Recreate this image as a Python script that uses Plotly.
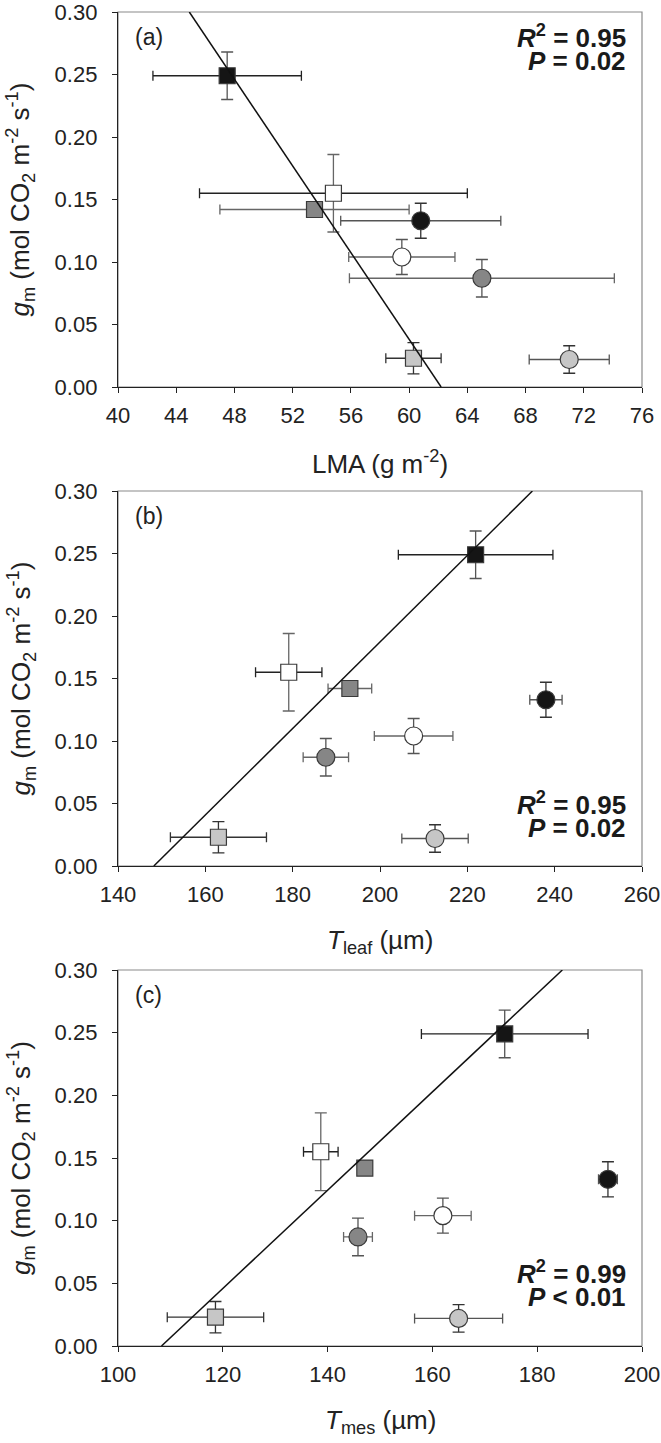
import plotly.graph_objects as go

# ---------------- data ----------------
gm = [0.249, 0.155, 0.142, 0.133, 0.104, 0.087, 0.023, 0.022]
gm_err = [0.019, 0.031, 0.004, 0.014, 0.014, 0.015, 0.0125, 0.011]

lma = [47.5, 54.8, 53.5, 60.8, 59.5, 65.0, 60.3, 71.0]
lma_err = [5.1, 9.2, 6.5, 5.5, 3.65, 9.1, 1.9, 2.75]

tleaf = [221.9, 179.1, 193.1, 238.0, 207.7, 187.6, 163.0, 212.6]
tleaf_err = [17.7, 7.6, 5.0, 3.7, 9.0, 5.2, 11.0, 7.6]

tmes = [173.8, 138.7, 147.1, 193.5, 162.0, 145.8, 118.6, 165.0]
tmes_err = [15.9, 3.3, 1.0, 1.8, 5.4, 2.75, 9.2, 8.4]

fit_y = [0.30, 0.0]
fit_lma_x = [44.9, 62.2]
fit_tleaf_x = [234.9, 148.2]
fit_tmes_x = [184.8, 108.3]

stats = [("0.95", "= 0.02"), ("0.95", "= 0.02"), ("0.99", "< 0.01")]
panel_labels = ["(a)", "(b)", "(c)"]

# ---------------- styles ----------------
symbols = ["square", "square", "square", "circle", "circle", "circle", "square", "circle"]
fills = ["#151515", "#ffffff", "#868686", "#151515", "#ffffff", "#868686", "#c6c6c6", "#c6c6c6"]
xerr_cols = ["#222222", "#222222", "#666666", "#555555", "#666666", "#666666", "#333333", "#555555"]
yerr_cols = ["#555555", "#666666", "#666666", "#333333", "#555555", "#555555", "#333333", "#333333"]

W, H = 661, 1443
L, R, T, B = 118, 642, 12, 1346
panels_px = [(12, 387), (491, 866), (970, 1346)]

FONT = "Arial, Liberation Sans, Helvetica, sans-serif"


def xp(px):
    return (px - L) / (R - L)


def yp(py):
    return 1 - (py - T) / (B - T)


fig = go.Figure()

xdata = [(lma, lma_err, fit_lma_x), (tleaf, tleaf_err, fit_tleaf_x), (tmes, tmes_err, fit_tmes_x)]
xranges = [(40, 76, 4), (140, 260, 20), (100, 200, 20)]

for p, (xs, xe, fx) in enumerate(xdata):
    sfx = "" if p == 0 else str(p + 1)
    for i in range(len(gm)):
        is_sq = symbols[i] == "square"
        fig.add_trace(go.Scatter(
            x=[xs[i]], y=[gm[i]], mode="markers",
            xaxis="x" + sfx, yaxis="y" + sfx,
            marker=dict(symbol=symbols[i], size=16 if is_sq else 18, color=fills[i],
                        line=dict(color="#3a3a3a", width=1.2)),
            error_x=dict(type="data", array=[xe[i]], color=xerr_cols[i], thickness=1.3, width=5),
            error_y=dict(type="data", array=[gm_err[i]], color=yerr_cols[i], thickness=1.3, width=6),
            showlegend=False, hoverinfo="skip",
        ))
    fig.add_trace(go.Scatter(
        x=fx, y=fit_y, mode="lines", xaxis="x" + sfx, yaxis="y" + sfx,
        line=dict(color="#111111", width=1.5), showlegend=False, hoverinfo="skip",
        cliponaxis=True,
    ))

layout = dict(
    width=W, height=H, paper_bgcolor="white", plot_bgcolor="white",
    margin=dict(l=L, r=W - R, t=T, b=H - B, pad=0, autoexpand=False),
    font=dict(family=FONT, color="#222222"),
    showlegend=False,
)

annotations = []
shapes = []
for p, (top, bot) in enumerate(panels_px):
    sfx = "" if p == 0 else str(p + 1)
    x0, x1, dx = xranges[p]
    layout["xaxis" + sfx] = dict(
        domain=[0, 1], anchor="y" + sfx, range=[x0, x1], dtick=dx, tick0=x0,
        showgrid=False, zeroline=False, showline=True, linecolor="#222222", linewidth=1.2,
        ticks="outside", ticklen=5, tickcolor="#222222", tickwidth=1,
        tickfont=dict(size=22, family=FONT, color="#222222"),
        automargin=False, ticklabelstandoff=3, ticklabeloverflow="allow",
    )
    layout["yaxis" + sfx] = dict(
        domain=[yp(bot), yp(top)], anchor="x" + sfx, range=[0, 0.30], dtick=0.05,
        tickformat=".2f",
        showgrid=False, zeroline=False, showline=True, linecolor="#222222", linewidth=1.2,
        ticks="outside", ticklen=5, tickcolor="#222222", tickwidth=1,
        tickfont=dict(size=22, family=FONT, color="#222222"),
        automargin=False, ticklabelstandoff=10, ticklabeloverflow="allow",
    )
    shapes.append(dict(type="rect", xref="x" + sfx + " domain", yref="y" + sfx + " domain",
                       x0=0, x1=1, y0=0, y1=1, line=dict(color="#8a8a8a", width=1.2),
                       layer="below"))
    # y title
    annotations.append(dict(
        text="<i>g</i><sub>m</sub> (mol CO<sub>2</sub> m<sup>-2</sup> s<sup>-1</sup>)",
        xref="paper", yref="paper", x=xp(21), y=yp((top + bot) / 2),
        xanchor="center", yanchor="middle", textangle=-90, showarrow=False,
        font=dict(size=26, family=FONT, color="#222222"),
    ))
    # panel label
    annotations.append(dict(
        text=panel_labels[p], xref="paper", yref="paper", x=xp(133), y=yp(top + 25),
        xanchor="left", yanchor="middle", showarrow=False,
        font=dict(size=23, family=FONT, color="#222222"),
    ))

xtitles = ["LMA (g m<sup>-2</sup>)", "<i>T</i><sub>leaf</sub> (\u00b5m)", "<i>T</i><sub>mes</sub> (\u00b5m)"]
for p, (top, bot) in enumerate(panels_px):
    annotations.append(dict(
        text=xtitles[p], xref="paper", yref="paper", x=xp((L + R) / 2), y=yp(bot + 75),
        xanchor="center", yanchor="middle", showarrow=False,
        font=dict(size=26, family=FONT, color="#222222"),
    ))

# statistics text (R2 line centre) positions
stat_pos = [36, 803, 1272]
for p in range(3):
    r2, pv = stats[p]
    yc = stat_pos[p]
    annotations.append(dict(
        text="<b><i>R</i><sup>2</sup> = " + r2 + "</b>", xref="paper", yref="paper",
        x=xp(628), y=yp(yc), xanchor="right", yanchor="middle", showarrow=False,
        font=dict(size=26, family=FONT, color="#1a1a1a"),
    ))
    annotations.append(dict(
        text="<b><i>P</i> " + pv + "</b>", xref="paper", yref="paper",
        x=xp(628), y=yp(yc + 25), xanchor="right", yanchor="middle", showarrow=False,
        font=dict(size=26, family=FONT, color="#1a1a1a"),
    ))

layout["annotations"] = annotations
layout["shapes"] = shapes
fig.update_layout(**layout)

fig.write_html(
    "out.html",
    config={"displayModeBar": False, "staticPlot": True},
    post_script="document.body.style.margin='0';document.body.style.overflow='hidden';",
)
